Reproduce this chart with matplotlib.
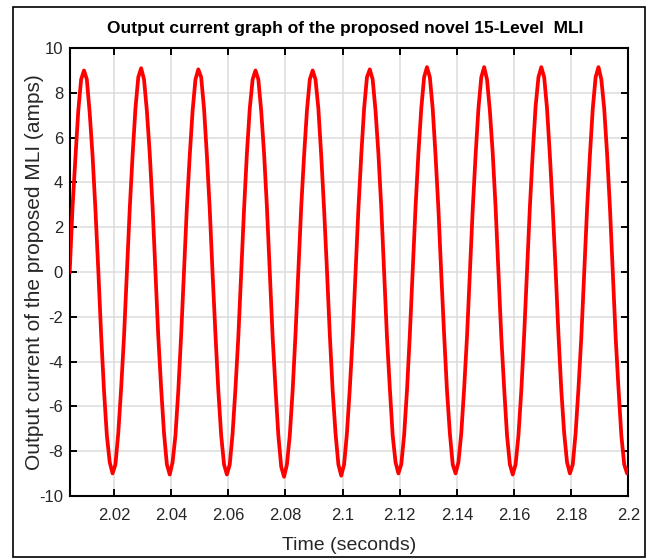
import numpy as np
import matplotlib
matplotlib.use("Agg")
import matplotlib.pyplot as plt
from matplotlib.patches import Rectangle

plt.rcParams['font.family'] = ['Liberation Sans', 'DejaVu Sans']
plt.rcParams['axes.unicode_minus'] = False

# ── Data (1 ms samples, first sample at 2.0045 s) ──
T_START = 2.0045
T_STEP = 0.001

cycle_01 = [0.0, 2.9, 5.1, 7.2, 8.6, 9.0, 8.6, 7.1, 5.2, 2.8, 0.1, -2.8, -5.3, -7.3, -8.5, -9.0, -8.6, -7.2, -5.2, -2.9]
cycle_02 = [0.0, 2.8, 5.2, 7.3, 8.7, 9.1, 8.6, 7.2, 5.3, 2.9, 0.0, -2.9, -5.2, -7.2, -8.6, -9.05, -8.5, -7.3, -5.3, -2.8]
cycle_03 = [0.1, 2.9, 5.2, 7.2, 8.6, 9.05, 8.7, 7.3, 5.2, 2.8, -0.1, -2.8, -5.3, -7.3, -8.6, -9.05, -8.6, -7.2, -5.2, -2.9]
cycle_04 = [0.0, 2.8, 5.3, 7.3, 8.6, 9.0, 8.6, 7.2, 5.3, 2.9, 0.0, -2.9, -5.2, -7.3, -8.7, -9.15, -8.6, -7.3, -5.3, -2.8]
cycle_05 = [0.0, 2.9, 5.2, 7.2, 8.6, 9.0, 8.6, 7.3, 5.2, 2.8, 0.1, -2.8, -5.3, -7.2, -8.6, -9.1, -8.6, -7.2, -5.2, -2.9]
cycle_06 = [0.0, 2.8, 5.2, 7.3, 8.7, 9.05, 8.6, 7.2, 5.3, 2.9, 0.0, -2.9, -5.2, -7.3, -8.5, -9.0, -8.6, -7.3, -5.3, -2.8]
cycle_07 = [0.1, 2.9, 5.3, 7.3, 8.7, 9.15, 8.7, 7.3, 5.2, 2.8, -0.1, -2.8, -5.3, -7.2, -8.6, -9.0, -8.5, -7.2, -5.2, -2.9]
cycle_08 = [0.0, 2.8, 5.2, 7.3, 8.7, 9.15, 8.6, 7.2, 5.3, 2.9, 0.0, -2.9, -5.2, -7.3, -8.6, -9.05, -8.6, -7.3, -5.3, -2.8]
cycle_09 = [0.0, 2.9, 5.3, 7.4, 8.7, 9.15, 8.7, 7.3, 5.2, 2.8, 0.1, -2.8, -5.3, -7.2, -8.5, -9.0, -8.6, -7.2, -5.2, -2.9]
cycle_10 = [0.0, 2.8, 5.2, 7.3, 8.7, 9.15, 8.6, 7.3, 5.3, 2.9, 0.0, -2.9, -5.2, -7.3, -8.6, -9.0, -8.7, -7.3, -5.3, -2.8]

current = np.concatenate([cycle_01, cycle_02, cycle_03, cycle_04, cycle_05,
                          cycle_06, cycle_07, cycle_08, cycle_09, cycle_10])
time = T_START + T_STEP * np.arange(len(current))

x_ticks = [2.02, 2.04, 2.06, 2.08, 2.10, 2.12, 2.14, 2.16, 2.18, 2.20]
x_tick_labels = ['2.02', '2.04', '2.06', '2.08', '2.1', '2.12', '2.14', '2.16', '2.18', '2.2']
y_ticks = [-10, -8, -6, -4, -2, 0, 2, 4, 6, 8, 10]

# ── Plot ──────────────────────────────────────────────────────────────
fig = plt.figure(figsize=(6.54, 5.59), dpi=100)
ax = fig.add_axes([0.107, 0.113, 0.854, 0.801])

ax.plot(time, current, '-', color='#ff0000', lw=2.7, solid_joinstyle='round', zorder=5)

ax.set_xlim(2.0046, 2.2)
ax.set_ylim(-10, 10)
ax.set_xticks(x_ticks)
ax.set_xticklabels(x_tick_labels)
ax.set_yticks(y_ticks)

ax.grid(True, color='#dcdcdc', lw=1.1)
ax.set_axisbelow(True)
ax.tick_params(direction='in', top=True, right=True, length=5, width=1.4,
               labelsize=12, colors='black')
ax.tick_params(axis='x', labelcolor='#262626', pad=9)
ax.tick_params(axis='y', labelcolor='#262626', pad=5)
for sp in ax.spines.values():
    sp.set_linewidth(1.5)
    sp.set_color('black')

ax.set_xlabel('Time (seconds)', fontsize=14, color='#262626', labelpad=10)
ax.set_ylabel('Output current of the proposed MLI (amps)', fontsize=15,
              color='#262626')
# MATLAB tucks the y label in closer than matplotlib would
ax.yaxis.set_label_coords(-0.047, 0.5)
ax.set_title('Output current graph of the proposed novel 15-Level  MLI',
             fontsize=12.5, fontweight='bold', pad=11, x=0.493)

# outer frame round the whole picture
fig.add_artist(Rectangle((0.0199, 0.004), 0.966, 0.9835, transform=fig.transFigure,
                         fill=False, ec='black', lw=1.2))

fig.savefig('out.png', dpi=100, facecolor='white')
